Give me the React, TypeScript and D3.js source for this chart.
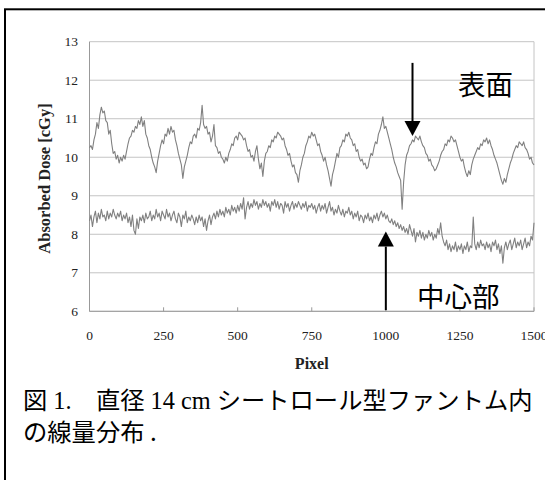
import React from "react";
import * as d3 from "d3";

// pixel positions sampled every 5
const STEP = 5;

// 表面 (surface) dose, cGy
const surface = [
  10.25, 10.3, 10.2, 10.45, 10.6, 10.9, 10.75, 11.1, 11.3, 11.15,
  11.2, 10.95, 10.9, 10.6, 10.7, 10.35, 10.1, 10.15, 9.95, 10.05,
  9.85, 10.0, 9.9, 10.05, 9.95, 10.15, 10.35, 10.5, 10.55, 10.7,
  10.65, 10.8, 10.75, 10.95, 10.85, 11.05, 10.8, 10.95, 10.6, 10.5,
  10.3, 10.2, 10.0, 9.85, 9.75, 9.6, 9.9, 10.1, 10.3, 10.45,
  10.35, 10.6, 10.55, 10.75, 10.6, 10.8, 10.65, 10.7, 10.45, 10.3,
  10.1, 9.95, 9.8, 9.45, 9.75, 9.9, 10.05, 10.25, 10.4, 10.35,
  10.55, 10.6, 10.5, 10.75, 10.7, 10.9, 11.35, 10.85, 10.75, 10.8,
  10.6, 10.65, 10.4, 10.55, 10.85, 10.3, 10.25, 10.1, 10.15, 10.0,
  9.95, 9.85, 10.0, 9.9, 10.1, 10.2, 10.35, 10.3, 10.5, 10.55,
  10.45, 10.65, 10.6, 10.55, 10.45, 10.5, 10.3, 10.15, 10.2, 10.0,
  10.05, 9.9, 10.15, 10.3, 9.95, 9.7, 9.85, 9.5, 9.9, 10.1,
  10.15, 10.3, 10.25, 10.45, 10.4, 10.55, 10.5, 10.65, 10.6, 10.55,
  10.45, 10.5, 10.3, 10.2, 10.05, 10.1, 9.9, 9.75, 9.8, 9.6,
  9.55, 9.35, 9.65, 9.8, 10.0, 10.1, 10.3, 10.4, 10.55, 10.5,
  10.65, 10.55, 10.6, 10.45, 10.3, 10.35, 10.15, 10.05, 9.9, 10.0,
  9.8, 9.65, 9.45, 9.25, 9.55, 9.7, 9.9, 10.1, 10.0, 10.25,
  10.3, 10.45, 10.4, 10.6, 10.55, 10.65, 10.5, 10.45, 10.3, 10.35,
  10.15, 10.2, 10.0, 9.9, 9.95, 9.8, 9.85, 9.7, 9.75, 9.95,
  10.1, 10.05, 10.25, 10.4, 10.35, 10.6, 10.7, 10.85, 11.05, 10.75,
  10.8, 10.65, 10.5, 10.35, 10.2, 10.0, 9.85, 9.75, 9.6, 9.5,
  9.4, 8.65, 9.35, 9.8, 10.05, 10.15, 10.3, 10.35, 10.45, 10.4,
  10.55, 10.5, 10.45, 10.55, 10.4, 10.3, 10.25, 10.1, 10.05, 9.9,
  9.95, 9.8, 9.75, 9.65, 9.7, 9.8, 9.9, 10.05, 10.15, 10.2,
  10.35, 10.3, 10.45, 10.4, 10.55, 10.5, 10.4, 10.45, 10.3, 10.15,
  10.0, 9.9, 9.95, 9.75, 9.6, 9.5, 9.65, 9.55, 9.8, 9.95,
  10.05, 10.15, 10.25, 10.2, 10.35, 10.3, 10.45, 10.4, 10.5, 10.35,
  10.45, 10.3, 10.2, 10.05, 9.95, 9.85, 9.7, 9.55, 9.4, 9.3,
  9.45, 9.35, 9.55, 9.7, 9.85, 9.95, 10.1, 10.2, 10.3, 10.25,
  10.4, 10.35, 10.3, 10.4, 10.25, 10.2, 10.1, 9.95, 10.0, 9.85,
  9.8,
];

// 中心部 (center) dose, cGy
const center = [
  8.35, 8.5, 8.2, 8.45, 8.6, 8.3, 8.55, 8.4, 8.65, 8.45,
  8.5, 8.35, 8.6, 8.4, 8.55, 8.45, 8.65, 8.5, 8.4, 8.55,
  8.45, 8.6, 8.35, 8.5, 8.4, 8.55, 8.3, 8.45, 8.2, 8.5,
  8.1, 8.0, 8.4, 8.15, 8.45, 8.35, 8.5, 8.3, 8.55, 8.4,
  8.45, 8.6, 8.35, 8.5, 8.4, 8.65, 8.45, 8.55, 8.35, 8.6,
  8.5, 8.4, 8.65, 8.45, 8.55, 8.35, 8.5, 8.6, 8.4, 8.3,
  8.55, 8.45, 8.2, 8.5, 8.4, 8.6, 8.3, 8.45, 8.35, 8.5,
  8.4, 8.25, 8.45, 8.3, 8.5, 8.35, 8.45, 8.2, 8.4, 8.1,
  8.35, 8.5, 8.25, 8.45, 8.55, 8.4, 8.6, 8.45, 8.65, 8.5,
  8.6, 8.45, 8.7, 8.55, 8.65, 8.5, 8.75, 8.6, 8.7, 8.55,
  8.75, 8.6, 8.8, 8.65, 8.95, 8.4, 8.7, 8.85, 8.65, 8.8,
  8.7, 8.9, 8.75, 8.85, 8.65, 8.8, 8.7, 8.9, 8.75, 8.85,
  8.7, 8.8, 8.6, 8.85, 8.75, 8.9, 8.7, 8.85, 8.65, 8.8,
  8.75, 8.55, 8.85, 8.7, 8.8, 8.6, 8.75, 8.85, 8.65, 8.8,
  8.7, 8.85, 8.75, 8.65, 8.8, 8.7, 8.85, 8.6, 8.75, 8.7,
  8.8, 8.65, 8.75, 8.55, 8.7, 8.8, 8.6, 8.75, 8.65, 8.8,
  8.55, 8.7, 8.85, 8.6, 8.7, 8.5, 8.65, 8.55, 8.75, 8.6,
  8.5, 8.65, 8.45, 8.6, 8.55, 8.7, 8.5, 8.6, 8.4, 8.55,
  8.45, 8.6, 8.35, 8.5, 8.45, 8.3, 8.5, 8.4, 8.55, 8.35,
  8.45, 8.3, 8.5, 8.4, 8.55, 8.35, 8.5, 8.6, 8.45, 8.55,
  8.4, 8.5, 8.35, 8.3, 8.4, 8.25, 8.35, 8.2, 8.3, 8.15,
  8.25, 8.1, 8.2, 8.05, 8.15, 8.0, 8.25, 8.1, 7.95, 8.15,
  7.8, 8.05, 7.95, 8.1, 7.9, 8.05, 7.85, 8.0, 7.9, 8.1,
  7.95, 8.05, 7.85, 8.0, 7.9, 8.15, 8.0, 8.3, 7.95, 7.8,
  7.7, 7.85, 7.6, 7.75, 7.55, 7.7, 7.6, 7.8, 7.55, 7.7,
  7.6, 7.75, 7.5, 7.7, 7.6, 7.8, 7.55, 7.7, 7.65, 8.45,
  7.75, 7.6, 7.8, 7.65, 7.85, 7.7, 7.75, 7.6, 7.8, 7.65,
  7.75, 7.55, 7.8, 7.7, 7.85, 7.6, 7.75, 7.5, 7.7, 7.25,
  7.65, 7.8, 7.6, 7.75, 7.85, 7.6, 7.75, 7.9, 7.65, 7.8,
  7.7, 7.85, 7.6, 7.75, 7.9, 7.65, 7.8, 7.7, 7.95, 7.85,
  8.3,
];

const xTicks = [0, 250, 500, 750, 1000, 1250, 1500];
const yTicks = [6, 7, 8, 9, 10, 11, 12, 13];

// annotation arrows: pixel position, tail value, tip value
const arrows = [
  { label: "表面", x: 1090, from: 12.45, to: 10.55 },
  { label: "中心部", x: 1000, from: 6.03, to: 8.07 },
];

const W = 545;
const H = 480;
const left = 89.5;
const right = 534;
const top = 41.7;
const bottom = 311.3;

const serif = "'Liberation Serif', 'Times New Roman', serif";
const jp = "'Noto Sans CJK JP', 'Noto Sans', sans-serif";

export default function App() {
  const x = d3.scaleLinear().domain([0, 1500]).range([left, right]);
  const y = d3.scaleLinear().domain([6, 13]).range([bottom, top]);

  const line = d3
    .line<number>()
    .x((_, i) => x(i * STEP))
    .y((d) => y(d));

  const head = 8;
  const headH = 15;

  return (
    <div style={{ position: "absolute", left: 0, top: 0 }}>
      <svg width={W} height={H} style={{ display: "block", background: "#fff" }}>
        {/* outer frame, only left/top are in view */}
        <rect x={5} y={9.3} width={700} height={700} fill="none" stroke="#000" strokeWidth={2} />

        {/* grid */}
        {yTicks.map((t) => (
          <line key={t} x1={left} x2={right} y1={y(t)} y2={y(t)} stroke="#c4c4c4" strokeWidth={1} />
        ))}
        <line x1={right} x2={right} y1={top} y2={bottom} stroke="#c4c4c4" />
        <line x1={left} x2={left} y1={top} y2={bottom} stroke="#999" />
        <line x1={left} x2={right} y1={bottom} y2={bottom} stroke="#999" />
        {xTicks.map((t) => (
          <line key={t} x1={x(t)} x2={x(t)} y1={bottom} y2={bottom - 4} stroke="#999" />
        ))}

        {/* tick labels */}
        {yTicks.map((t) => (
          <text key={t} x={78} y={y(t)} dy="0.34em" textAnchor="end" fontFamily={serif} fontSize={13.5} fill="#222">
            {t}
          </text>
        ))}
        {xTicks.map((t) => (
          <text key={t} x={x(t)} y={339.5} textAnchor="middle" fontFamily={serif} fontSize={13.5} fill="#222">
            {t}
          </text>
        ))}
        <text x={(left + right) / 2} y={368.5} textAnchor="middle" fontFamily={serif} fontWeight="bold" fontSize={16} fill="#222">
          Pixel
        </text>
        <text
          transform={`translate(50,${(top + bottom) / 2 + 2}) rotate(-90)`}
          textAnchor="middle"
          fontFamily={serif}
          fontWeight="bold"
          fontSize={16.5}
          fill="#222"
        >
          Absorbed Dose [cGy]
        </text>

        {/* series */}
        <path d={line(surface) ?? ""} fill="none" stroke="#808080" strokeWidth={1.1} strokeLinejoin="round" />
        <path d={line(center) ?? ""} fill="none" stroke="#808080" strokeWidth={1.1} strokeLinejoin="round" />

        {/* arrows */}
        {arrows.map((a) => {
          const ax = x(a.x);
          const y0 = y(a.from);
          const y1 = y(a.to);
          const dir = y1 > y0 ? 1 : -1;
          const base = y1 - dir * headH;
          return (
            <g key={a.label}>
              <line x1={ax} x2={ax} y1={y0} y2={base} stroke="#000" strokeWidth={2} />
              <path d={`M${ax - head},${base}L${ax + head},${base}L${ax},${y1}Z`} fill="#000" />
            </g>
          );
        })}
        <text x={458} y={95} fontFamily={jp} fontSize={27.5} fill="#000">
          表面
        </text>
        <text x={417} y={307} fontFamily={jp} fontSize={27.5} fill="#000">
          中心部
        </text>

        {/* caption */}
        <text x={23} y={409} fontFamily={`'Liberation Serif', ${jp}`} fontSize={24.3} fill="#000">
          図 1.　直径 14 cm シートロール型ファントム内
        </text>
        <text x={23} y={441} fontFamily={jp} fontSize={24.3} fill="#000">
          の線量分布 .
        </text>
      </svg>
    </div>
  );
}
